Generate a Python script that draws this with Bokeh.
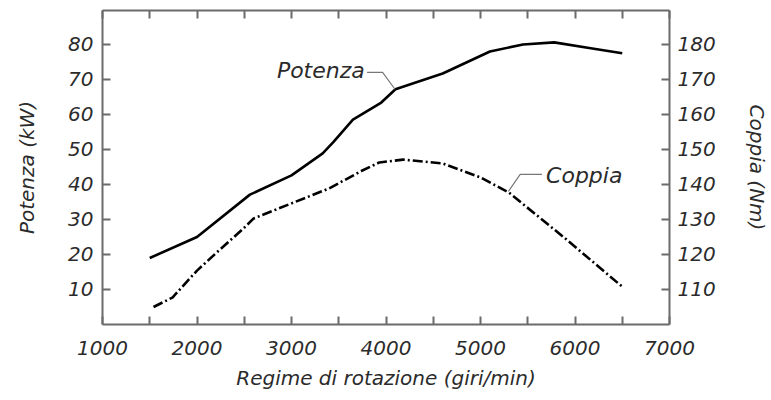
from bokeh.plotting import figure
from bokeh.models import Range1d, LinearAxis, FixedTicker, Label
from bokeh.embed import file_html
from bokeh.resources import INLINE

# ---- data ----
rpm_power = [1500, 2000, 2560, 3000, 3330, 3440, 3650, 3950, 4100, 4600, 5100, 5450, 5780, 6150, 6500]
power_kw = [19.0, 25.0, 37.1, 42.6, 48.9, 52.0, 58.5, 63.4, 67.2, 71.7, 78.0, 80.0, 80.6, 79.0, 77.5]

rpm_torque = [1540, 1740, 2000, 2210, 2490, 2600, 3000, 3400, 3750, 3930, 4180, 4600, 5000, 5300, 5900, 6500]
torque_nm = [105.0, 107.7, 115.4, 120.6, 127.4, 130.3, 134.6, 138.9, 144.0, 146.3, 147.1, 146.0, 142.0, 137.7, 124.5, 110.8]

x_ticks = [1000, 2000, 3000, 4000, 5000, 6000, 7000]
x_minor_ticks = [1500, 2500, 3500, 4500, 5500, 6500]
power_ticks = [10, 20, 30, 40, 50, 60, 70, 80]
torque_ticks = [110, 120, 130, 140, 150, 160, 170, 180]

x_title = "Regime di rotazione (giri/min)"
power_title = "Potenza (kW)"
torque_title = "Coppia (Nm)"
power_name = "Potenza"
torque_name = "Coppia"

# annotation anchor points (leader lines)
power_leader_x = [3800, 3964, 4095]
power_leader_y = [72.0, 72.0, 67.2]
torque_leader_x = [5650, 5420, 5295]
torque_leader_y = [142.9, 142.9, 138.0]

FONT = "DejaVu Sans"
AX = "#6b6b6b"
TXT = "#2b2b2b"

p = figure(width=771, height=400,
           x_range=Range1d(1000, 7000), y_range=Range1d(0, 89.7),
           output_backend="svg", toolbar_location=None,
           x_axis_location=None, y_axis_location=None,
           min_border_left=102, min_border_right=100,
           min_border_top=10, min_border_bottom=76)
p.extra_y_ranges = {"torque": Range1d(100, 189.7)}
p.grid.visible = False
p.outline_line_color = None
p.background_fill_color = "white"
p.border_fill_color = "white"


def style(ax, label_size="20px"):
    ax.axis_line_color = AX
    ax.axis_line_width = 2
    ax.major_tick_line_color = AX
    ax.major_tick_line_width = 2
    ax.minor_tick_line_color = AX
    ax.minor_tick_line_width = 2
    ax.major_tick_in = 8
    ax.major_tick_out = 0
    ax.minor_tick_in = 8
    ax.minor_tick_out = 0
    ax.major_label_text_font = FONT
    ax.major_label_text_font_style = "italic"
    ax.major_label_text_font_size = label_size
    ax.major_label_text_color = TXT
    ax.axis_label_text_font = FONT
    ax.axis_label_text_font_style = "italic"
    ax.axis_label_text_font_size = "20px"
    ax.axis_label_text_color = TXT


bottom = LinearAxis(ticker=FixedTicker(ticks=x_ticks, minor_ticks=x_minor_ticks),
                    axis_label=x_title)
style(bottom)
bottom.major_label_standoff = 16
bottom.axis_label_standoff = 8
p.add_layout(bottom, "below")

top = LinearAxis(ticker=FixedTicker(ticks=x_ticks, minor_ticks=x_minor_ticks))
style(top, label_size="0px")
top.major_label_standoff = 0
top.major_label_text_alpha = 0
p.add_layout(top, "above")

left = LinearAxis(ticker=FixedTicker(ticks=power_ticks, minor_ticks=[]),
                  axis_label=power_title)
style(left)
left.major_label_standoff = 9
left.axis_label_standoff = 26
p.add_layout(left, "left")

right = LinearAxis(y_range_name="torque",
                   ticker=FixedTicker(ticks=torque_ticks, minor_ticks=[]),
                   axis_label=torque_title)
style(right)
right.major_label_standoff = 8
right.axis_label_standoff = 26
p.add_layout(right, "right")

# curves
p.line(rpm_power, power_kw, line_color="black", line_width=2.6, line_join="round")
p.line(rpm_torque, torque_nm, y_range_name="torque", line_color="black",
       line_width=2.6, line_dash="10 3 2 3", line_join="round")

# leaders
p.line(power_leader_x, power_leader_y, line_color="#777777", line_width=1.2)
p.line(torque_leader_x, torque_leader_y, y_range_name="torque",
       line_color="#777777", line_width=1.2)

p.add_layout(Label(x=3775, y=72.6, text=power_name, text_align="right",
                   text_baseline="middle", text_font=FONT, text_font_style="italic",
                   text_font_size="22px", text_color=TXT))
p.add_layout(Label(x=5694, y=142.6, y_range_name="torque", text=torque_name,
                   text_align="left", text_baseline="middle", text_font=FONT,
                   text_font_style="italic", text_font_size="22px", text_color=TXT))

open("out.html", "w").write(file_html(p, INLINE))
